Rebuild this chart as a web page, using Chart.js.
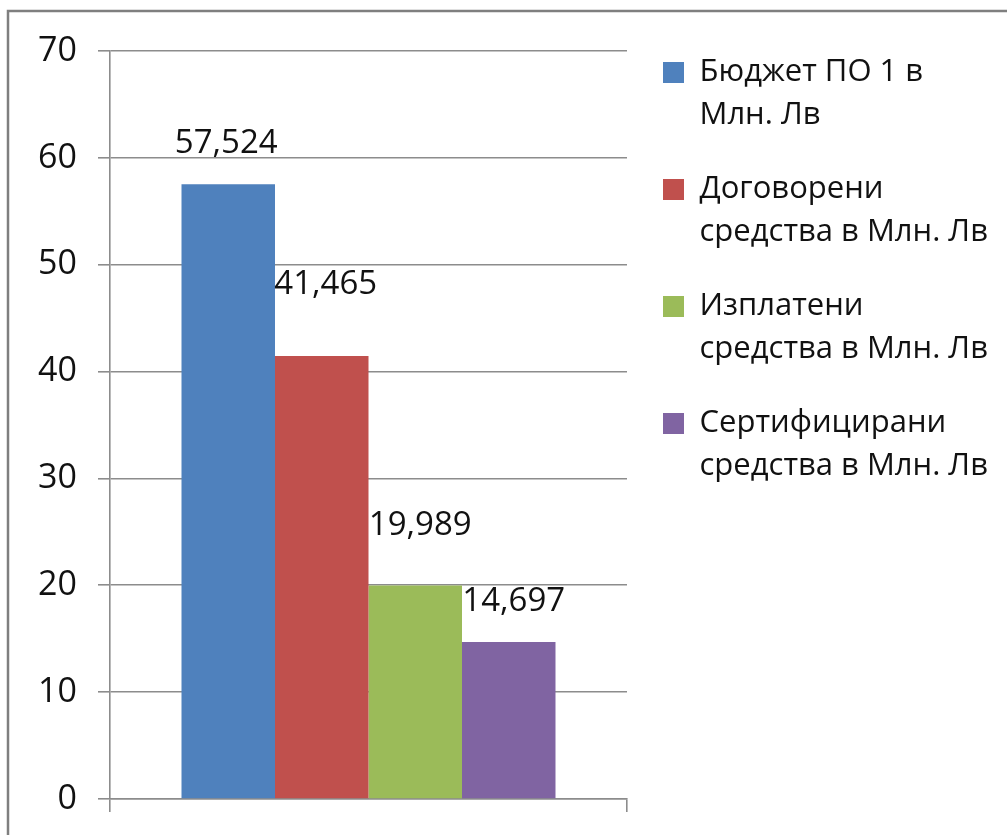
<!DOCTYPE html>
<html>
<head>
<meta charset="utf-8">
<script src="https://cdn.jsdelivr.net/npm/chart.js@4.4.1/dist/chart.umd.min.js"></script>
<style>
  html, body { margin: 0; padding: 0; background: #fff; }
  #wrap { position: relative; width: 1007px; height: 835px; }
</style>
</head>
<body>
<div id="wrap"><canvas id="c" width="1007" height="835"></canvas></div>
<script>
// ---- data ----
const categories = [''];
const seriesNames = [
  'Бюджет ПО 1 в\nМлн. Лв',
  'Договорени\nсредства в Млн. Лв',
  'Изплатени\nсредства в Млн. Лв',
  'Сертифицирани\nсредства в Млн. Лв'
];
const budgetValues = [57.524];
const contractedValues = [41.465];
const paidValues = [19.989];
const certifiedValues = [14.697];
const yTickValues = [0, 10, 20, 30, 40, 50, 60, 70];

const seriesColors = ['#4f81bd', '#c0504d', '#9bbb59', '#8064a2'];
const FONT = '"Open Sans", "Noto Sans", sans-serif';
const GRID = '#8c8c8c';

const frame = {
  id: 'frame',
  beforeDraw(chart) {
    const ctx = chart.ctx;
    ctx.save();
    ctx.fillStyle = '#fff';
    ctx.fillRect(0, 0, chart.width, chart.height);
    ctx.strokeStyle = '#7f7f7f';
    ctx.lineWidth = 2.5;
    ctx.beginPath();
    ctx.moveTo(8, chart.height);
    ctx.lineTo(8, 11);
    ctx.lineTo(chart.width, 11);
    ctx.stroke();
    ctx.restore();
  }
};

const legendNudge = {
  id: 'legendNudge',
  afterLayout(chart, args, opts) {
    const l = chart.legend;
    if (!l) return;
    l.left += opts.dx; l.right += opts.dx;
    l.top += opts.dy; l.bottom += opts.dy;
  }
};

const valueLabels = {
  id: 'valueLabels',
  afterDatasetsDraw(chart, args, opts) {
    const ctx = chart.ctx;
    ctx.save();
    ctx.font = opts.size + 'px ' + FONT;
    ctx.fillStyle = '#111';
    ctx.textAlign = 'center';
    ctx.textBaseline = 'alphabetic';
    chart.data.datasets.forEach((ds, i) => {
      const meta = chart.getDatasetMeta(i);
      meta.data.forEach((bar, j) => {
        const v = ds.data[j];
        const txt = v.toFixed(3).replace('.', ',');
        ctx.fillText(txt, bar.x + opts.shift[i], bar.y - opts.lift[i]);
      });
    });
    ctx.restore();
  }
};

function draw() {
  const seriesData = [budgetValues, contractedValues, paidValues, certifiedValues];
  new Chart(document.getElementById('c'), {
    type: 'bar',
    data: {
      labels: categories,
      datasets: seriesNames.map((name, i) => ({
        label: name,
        data: seriesData[i],
        backgroundColor: seriesColors[i],
        borderWidth: 0,
        categoryPercentage: 0.7234,
        barPercentage: 1.0
      }))
    },
    options: {
      responsive: false,
      animation: false,
      layout: { padding: { left: 10, top: 51, right: 20, bottom: 16 } },
      scales: {
        x: {
          ticks: { display: false },
          grid: { display: true, drawOnChartArea: false, drawTicks: true, tickLength: 13, color: GRID, lineWidth: 1.6, offset: true },
          border: { display: true, color: GRID, width: 1.6 },
          afterFit(scale) { scale.height = 20; }
        },
        y: {
          min: 0,
          max: 70,
          afterBuildTicks(scale) { scale.ticks = yTickValues.map(v => ({ value: v })); },
          ticks: {
            padding: 21,
            color: '#111',
            font: { family: FONT, size: 34 }
          },
          grid: { color: GRID, lineWidth: 1.6, tickLength: 12, drawTicks: true },
          border: { display: true, color: GRID, width: 1.6 },
          afterFit(scale) { scale.width = 100; scale.paddingTop = 0; scale.paddingBottom = 0; }
        }
      },
      plugins: {
        tooltip: { enabled: false },
        legend: {
          position: 'right',
          align: 'start',
          maxWidth: 360,
          labels: {
            color: '#111',
            boxWidth: 21,
            boxHeight: 21,
            padding: 31,
            font: { family: FONT, size: 31, lineHeight: 1.387 },
            generateLabels(chart) {
              const items = Chart.defaults.plugins.legend.labels.generateLabels(chart);
              return items.map(it => Object.assign(it, { text: it.text.split('\n'), lineWidth: 0 }));
            }
          }
        },
        legendNudge: { dx: 5, dy: -25 },
        valueLabels: { size: 33, lift: [31, 62, 50, 31], shift: [-2, 4, 5, 5] }
      }
    },
    plugins: [frame, legendNudge, valueLabels]
  });
}

if (document.fonts && document.fonts.load) {
  Promise.all([
    document.fonts.load('34px "Open Sans"'),
    document.fonts.load('31px "Open Sans"')
  ]).then(draw, draw);
} else {
  draw();
}
</script>
</body>
</html>
